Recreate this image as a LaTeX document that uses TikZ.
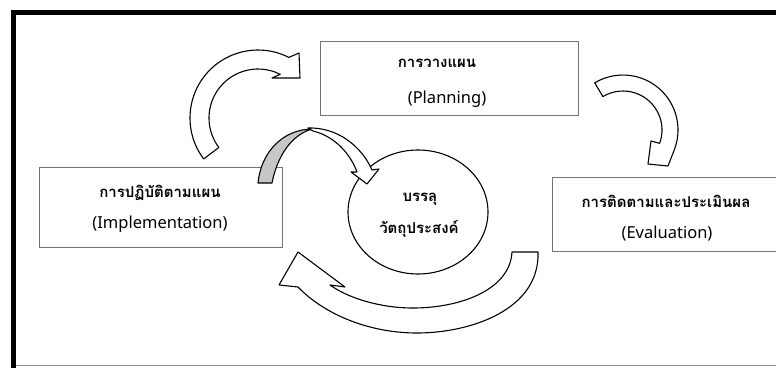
\documentclass[tikz,border=0pt]{standalone}
\usepackage{fontspec}
\setmainfont{Noto Sans}
\newfontfamily\thaifont[Script=Thai]{Loma}
\usepackage{tikz}

\tikzset{
  stagebox/.style={draw=black!55, line width=1pt},
  blockarrow/.style={draw=black, line width=1.1pt, fill=white, line join=round},
  thaitext/.style={inner sep=0pt, anchor=base, font=\thaifont\bfseries\fontsize{15}{18}\selectfont},
  engtext/.style={inner sep=0pt, anchor=base, font=\fontsize{16.5}{20}\selectfont}
}

\begin{document}
\begin{tikzpicture}[x=1pt, y=-1pt]

    \useasboundingbox (0,0) rectangle (776,367);
    \clip (0,0) rectangle (776,367);

    % frame
    \draw[line width=5pt] (13.5,380) -- (13.5,12.5) -- (790,12.5);
    \draw[black!45, line width=1pt] (16,365.5) -- (790,365.5);

    % boxes
    \draw[stagebox] (320,41) rectangle (578,115);
    \draw[stagebox] (39,167) rectangle (282,247);
    \draw[stagebox] (552,177) rectangle (800,251);

    % goal
    \draw[line width=1.1pt] (418,212) ellipse [x radius=70, y radius=62];

    \coordinate (c1) at (258,118);
    \coordinate (c2) at (623,130);

    % implementation -> planning
    \draw[blockarrow] ([shift={(143:68)}]c1) arc [start angle=143, end angle=297, radius=68]
      -- (299,53) -- (300,78) -- (272,78)
      -- ([shift={(297:49)}]c1) arc [start angle=297, end angle=143, radius=49] -- cycle;

    % planning -> evaluation
    \draw[blockarrow] ([shift={(-121:55)}]c2) arc [start angle=-121, end angle=20, radius=55]
      -- (668,166) -- (648,164) -- (651,141)
      -- ([shift={(20:39)}]c2) arc [start angle=20, end angle=-121, radius=39] -- cycle;

    % evaluation -> implementation
    \draw[blockarrow] (538,252) .. controls (540,310) and (470,333) .. (417,333)
      .. controls (370,333) and (325,315) .. (298,287)
      -- (279,285) -- (298,252) -- (345,287) -- (330,285)
      .. controls (348,298) and (380,308) .. (413,308)
      .. controls (460,308) and (510,290) .. (512,252) -- cycle;

    % implementation -> goal
    \draw[blockarrow, fill=black!22] (258,183) .. controls (261,152) and (283,129) .. (313,129)
      .. controls (298,132) and (279,148) .. (272,183) -- cycle;
    \draw[blockarrow] (308,128) .. controls (338,127) and (362,147) .. (372,170)
      -- (379,169) -- (367,184) -- (351,172) -- (357,172)
      .. controls (350,153) and (334,136) .. (313,131) -- cycle;

    % texts
    \node[thaitext] (plan-th) at (437,67) {การวางแผน};
    \node[engtext] (plan-en) at (447,103) {(Planning)};

    \node[thaitext] (impl-th) at (160,197) {การปฏิบัติตามแผน};
    \node[engtext] (impl-en) at (160,228) {(Implementation)};

    \node[thaitext] (eval-th) at (666,207) {การติดตามและประเมินผล};
    \node[engtext] (eval-en) at (667,238) {(Evaluation)};

    \node[thaitext] (goal-a) at (420,201) {บรรลุ};
    \node[thaitext] (goal-b) at (419,233) {วัตถุประสงค์};

\end{tikzpicture}
\end{document}
